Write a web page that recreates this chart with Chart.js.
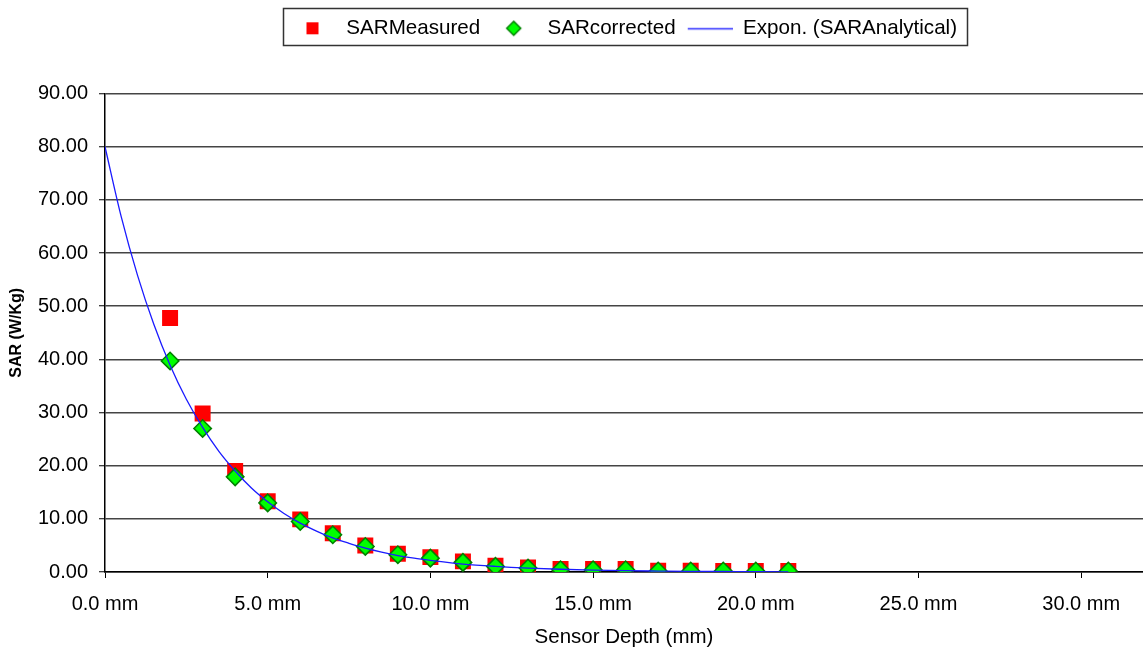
<!DOCTYPE html>
<html>
<head>
<meta charset="utf-8">
<title>SAR vs Sensor Depth</title>
<script src="https://cdn.jsdelivr.net/npm/chart.js@4.4.1/dist/chart.umd.min.js"></script>
<style>
  html, body { margin: 0; padding: 0; background: #ffffff; }
  #wrap { width: 1143px; height: 653px; }
</style>
</head>
<body>
<div id="wrap"><canvas id="sarChart" width="1143" height="653"></canvas></div>
<script>
// Sensor depth (mm) of the measured / corrected points
const depthMm = [2, 3, 4, 5, 6, 7, 8, 9, 10, 11, 12, 13, 14, 15, 16, 17, 18, 19, 20, 21];
// SAR values (W/Kg)
const sarMeasured  = [47.8, 29.8, 19.0, 13.3, 9.9, 7.3, 5.0, 3.45, 2.8, 2.0, 1.2, 0.87, 0.56, 0.56, 0.56, 0.24, 0.24, 0.2, 0.2, 0.2];
const sarCorrected = [39.7, 27.0, 17.9, 13.0, 9.5, 7.0, 4.8, 3.25, 2.6, 1.8, 1.05, 0.75, 0.43, 0.43, 0.43, 0.19, 0.19, 0.19, 0.19, 0.19];
// Exponential trend of the analytical SAR
const analyticDepth = [0, 0.5, 1, 1.5, 2, 2.5, 3, 3.5, 4, 4.5, 5, 5.5, 6, 6.5, 7, 7.5, 8, 8.5, 9, 9.5, 10, 11, 12, 13, 14, 15, 16, 17, 18, 19, 20, 21];
const analyticSAR   = [80.0, 66.8, 55.8, 46.6, 38.9, 32.5, 27.2, 22.7, 19.0, 15.8, 13.2, 11.0, 9.2, 7.7, 6.4, 5.4, 4.5, 3.75, 3.1, 2.6, 2.2, 1.5, 1.06, 0.74, 0.52, 0.36, 0.25, 0.18, 0.12, 0.09, 0.06, 0.04];

const seriesNames = ['SARMeasured', 'SARcorrected', 'Expon. (SARAnalytical)'];
const xTickStep = 5;
const yTickStep = 10;
const yMax = 90;
const xMax = 31.9;

const toPoints = (xs, ys) => xs.map((x, i) => ({ x: x, y: ys[i] }));

// Small legend symbols, 47px wide so the line sample gets its full length
function legendIcon(kind) {
  const cv = document.createElement('canvas');
  cv.width = 47; cv.height = 20;
  const g = cv.getContext('2d');
  if (kind === 'square') {
    g.fillStyle = '#ff0000';
    g.fillRect(23.5 - 6, 10 - 6, 12, 12);
  } else if (kind === 'diamond') {
    g.beginPath();
    g.moveTo(23.5, 3); g.lineTo(30.5, 10); g.lineTo(23.5, 17); g.lineTo(16.5, 10); g.closePath();
    g.fillStyle = '#00ff00'; g.fill();
    g.lineWidth = 1.5; g.strokeStyle = '#008000'; g.stroke();
  } else {
    g.beginPath();
    g.moveTo(2, 10.5); g.lineTo(47, 10.5);
    g.lineWidth = 1.5; g.strokeStyle = '#2a2aff'; g.stroke();
  }
  return cv;
}
const legendIcons = [legendIcon('square'), legendIcon('diamond'), legendIcon('line')];

// Moves the legend to the top band and frames it
const legendFrame = {
  id: 'legendFrame',
  afterLayout(chart) {
    const lg = chart.legend;
    if (!lg) return;
    const h = lg.bottom - lg.top;
    lg.top = 8; lg.bottom = 8 + h;
    const w = lg.right - lg.left;
    lg.left = 279; lg.right = 279 + w;
  },
  afterDraw(chart) {
    const lg = chart.legend;
    if (!lg || !lg.legendHitBoxes || !lg.legendHitBoxes.length) return;
    const hb = lg.legendHitBoxes;
    const last = hb[hb.length - 1];
    const x0 = hb[0].left - 6;
    const x1 = last.left + last.width + 10;
    const ctx = chart.ctx;
    ctx.save();
    ctx.strokeStyle = '#333333';
    ctx.lineWidth = 1.5;
    ctx.strokeRect(Math.round(x0) + 0.5, 8.5, Math.round(x1 - x0), 37);
    ctx.restore();
  }
};

Chart.defaults.font.family = '"Liberation Sans", Arial, sans-serif';
Chart.defaults.font.size = 20;
Chart.defaults.color = '#000000';

new Chart(document.getElementById('sarChart'), {
  type: 'scatter',
  data: {
    datasets: [
      {
        label: seriesNames[0],
        data: toPoints(depthMm, sarMeasured),
        pointStyle: 'rect',
        pointRadius: 11.3,
        pointHoverRadius: 11.3,
        backgroundColor: '#ff0000',
        borderColor: '#ff0000',
        borderWidth: 0,
        showLine: false,
        order: 3
      },
      {
        label: seriesNames[1],
        data: toPoints(depthMm, sarCorrected),
        pointStyle: 'rectRot',
        pointRadius: 8.7,
        pointHoverRadius: 8.7,
        backgroundColor: '#00ff00',
        borderColor: '#008000',
        borderWidth: 1.6,
        showLine: false,
        order: 2
      },
      {
        label: seriesNames[2],
        data: toPoints(analyticDepth, analyticSAR),
        showLine: true,
        pointRadius: 0,
        pointHoverRadius: 0,
        borderColor: '#1a1aff',
        backgroundColor: '#1a1aff',
        borderWidth: 1.3,
        cubicInterpolationMode: 'monotone',
        fill: false,
        order: 1
      }
    ]
  },
  options: {
    responsive: false,
    animation: false,
    layout: { autoPadding: false, padding: { top: 53, left: 0, right: 0, bottom: 0 } },
    plugins: {
      tooltip: { enabled: false },
      legend: {
        position: 'top',
        align: 'start',
        labels: {
          usePointStyle: true,
          pointStyleWidth: 47,
          boxHeight: 20,
          padding: 10,
          font: { size: 20.6 },
          sort: (a, b) => a.datasetIndex - b.datasetIndex,
          generateLabels(chart) {
            const items = Chart.defaults.plugins.legend.labels.generateLabels(chart);
            items.forEach(it => { it.pointStyle = legendIcons[it.datasetIndex]; it.lineWidth = 0; });
            return items;
          }
        }
      }
    },
    scales: {
      x: {
        type: 'linear',
        min: 0,
        max: xMax,
        afterFit(scale) { scale.height = 81; scale.paddingLeft = 0; scale.paddingRight = 0; },
        border: { color: '#000000', width: 1.5 },
        grid: { drawOnChartArea: false, drawTicks: true, tickLength: 6, color: '#000000', tickWidth: 1 },
        ticks: {
          stepSize: xTickStep,
          includeBounds: false,
          padding: 14,
          maxRotation: 0,
          font: { size: 20 },
          callback: v => v.toFixed(1) + ' mm'
        },
        title: {
          display: true,
          text: 'Sensor Depth (mm)',
          font: { size: 20.5 },
          padding: { top: 0, bottom: 3 }
        }
      },
      y: {
        min: 0,
        max: yMax,
        afterFit(scale) { scale.width = 105; scale.paddingTop = 0; scale.paddingBottom = 0; },
        border: { color: '#000000', width: 1.5 },
        grid: { color: '#444444', lineWidth: 1.5, tickLength: 6, tickColor: '#000000', tickWidth: 1 },
        ticks: {
          stepSize: yTickStep,
          padding: 11,
          font: { size: 20 },
          callback: v => v.toFixed(2)
        },
        title: {
          display: true,
          text: 'SAR (W/Kg)',
          font: { size: 16, weight: 'bold' },
          padding: { top: 7, bottom: 0 }
        }
      }
    }
  },
  plugins: [legendFrame]
});
</script>
</body>
</html>
